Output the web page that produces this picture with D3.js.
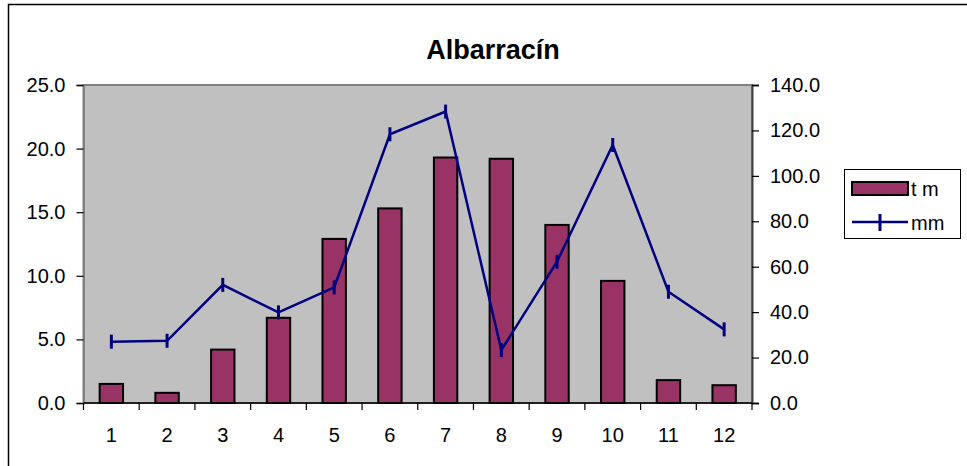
<!DOCTYPE html>
<html><head><meta charset="utf-8">
<script src="https://cdn.jsdelivr.net/npm/d3@7"></script>
<style>body{margin:0;background:#fff}svg{display:block}text{font-family:"Liberation Sans",Arial,sans-serif}</style>
</head><body><svg id="c" width="967" height="466"></svg>
<script>
const months = [1,2,3,4,5,6,7,8,9,10,11,12];
const tempValues = [1.5,0.8,4.2,6.7,12.9,15.3,19.3,19.2,14.0,9.6,1.8,1.4];
const rainValues = [27.0,27.4,52.0,39.9,50.9,118.3,128.3,23.3,62.2,113.6,49.0,32.4];
const leftTicks = [0,5,10,15,20,25];
const rightTicks = [0,20,40,60,80,100,120,140];
const seriesNames = ["t m","mm"];
const title = "Albarracín";

const svg = d3.select("#c");
const L=83.5, R=752, T=85, B=403;
const x = d3.scaleBand().domain(months).range([L,R]).padding(0);
const yL = d3.scaleLinear().domain([0,25]).range([B,T]);
const yR = d3.scaleLinear().domain([0,140]).range([B,T]);

// outer border
svg.append("rect").attr("x",8.5).attr("y",4.5).attr("width",1000).attr("height",1000)
  .attr("fill","none").attr("stroke","#000").attr("stroke-width",1.5);

// plot area
svg.append("rect").attr("x",L).attr("y",T).attr("width",R-L).attr("height",B-T)
  .attr("fill","#C0C0C0").attr("stroke","#808080").attr("stroke-width",2);

// title
svg.append("text").attr("x",493).attr("y",59).attr("text-anchor","middle")
  .attr("font-size",27).attr("font-weight","bold").text(title);

// bars
const bw = x.bandwidth()*0.42;
svg.append("g").selectAll("rect").data(tempValues).join("rect")
  .attr("x",(d,i)=>x(months[i])+x.bandwidth()/2-bw/2)
  .attr("y",d=>yL(d)).attr("width",bw).attr("height",d=>B-yL(d))
  .attr("fill","#993366").attr("stroke","#000").attr("stroke-width",2);

// axes
const fmt = d3.format(".1f");
const gl = svg.append("g").attr("transform",`translate(${L},0)`)
  .call(d3.axisLeft(yL).tickValues(leftTicks).tickFormat(fmt).tickSize(7).tickPadding(11));
const gr = svg.append("g").attr("transform",`translate(${R},0)`)
  .call(d3.axisRight(yR).tickValues(rightTicks).tickFormat(fmt).tickSize(7).tickPadding(11));
gl.select(".domain").attr("stroke","#808080").attr("stroke-width",2);
gr.select(".domain").attr("stroke","#404040").attr("stroke-width",2);
[gl,gr].forEach(g=>{g.selectAll("text").attr("font-size",20).attr("fill","#000").style("font-family","Liberation Sans, Arial, sans-serif");
  g.selectAll(".tick line").attr("stroke","#000").attr("stroke-width",1.2);});

// x axis
const gx = svg.append("g").attr("transform",`translate(0,${B})`);
gx.append("line").attr("x1",L).attr("x2",R).attr("stroke","#000").attr("stroke-width",1.5);
const bounds = months.map(m=>x(m)).concat([R]);
gx.selectAll("line.t").data(bounds).join("line").attr("class","t")
  .attr("x1",d=>d).attr("x2",d=>d).attr("y1",0).attr("y2",7).attr("stroke","#000").attr("stroke-width",1.2);
gx.selectAll("text").data(months).join("text")
  .attr("x",d=>x(d)+x.bandwidth()/2).attr("y",25).attr("dy","0.71em")
  .attr("text-anchor","middle").attr("font-size",20).text(d=>d);

// line
const line = d3.line().x((d,i)=>x(months[i])+x.bandwidth()/2).y(d=>yR(d));
svg.append("path").datum(rainValues).attr("d",line).attr("fill","none")
  .attr("stroke","#000080").attr("stroke-width",2.5).attr("stroke-linejoin","miter");
svg.append("g").selectAll("line").data(rainValues).join("line")
  .attr("x1",(d,i)=>x(months[i])+x.bandwidth()/2).attr("x2",(d,i)=>x(months[i])+x.bandwidth()/2)
  .attr("y1",d=>yR(d)-7).attr("y2",d=>yR(d)+7)
  .attr("stroke","#000080").attr("stroke-width",3);

// legend
const lg = svg.append("g");
lg.append("rect").attr("x",844.5).attr("y",169.5).attr("width",116).attr("height",69)
  .attr("fill","#fff").attr("stroke","#000").attr("stroke-width",1);
lg.append("rect").attr("x",852).attr("y",182).attr("width",56).attr("height",13)
  .attr("fill","#993366").attr("stroke","#000").attr("stroke-width",2);
lg.append("text").attr("x",911).attr("y",189).attr("dy","0.35em").attr("font-size",20).text(seriesNames[0]);
lg.append("line").attr("x1",852).attr("x2",908).attr("y1",222).attr("y2",222).attr("stroke","#000080").attr("stroke-width",2.5);
lg.append("line").attr("x1",880).attr("x2",880).attr("y1",214).attr("y2",231).attr("stroke","#000080").attr("stroke-width",3);
lg.append("text").attr("x",911).attr("y",223).attr("dy","0.35em").attr("font-size",20).text(seriesNames[1]);
</script></body></html>
